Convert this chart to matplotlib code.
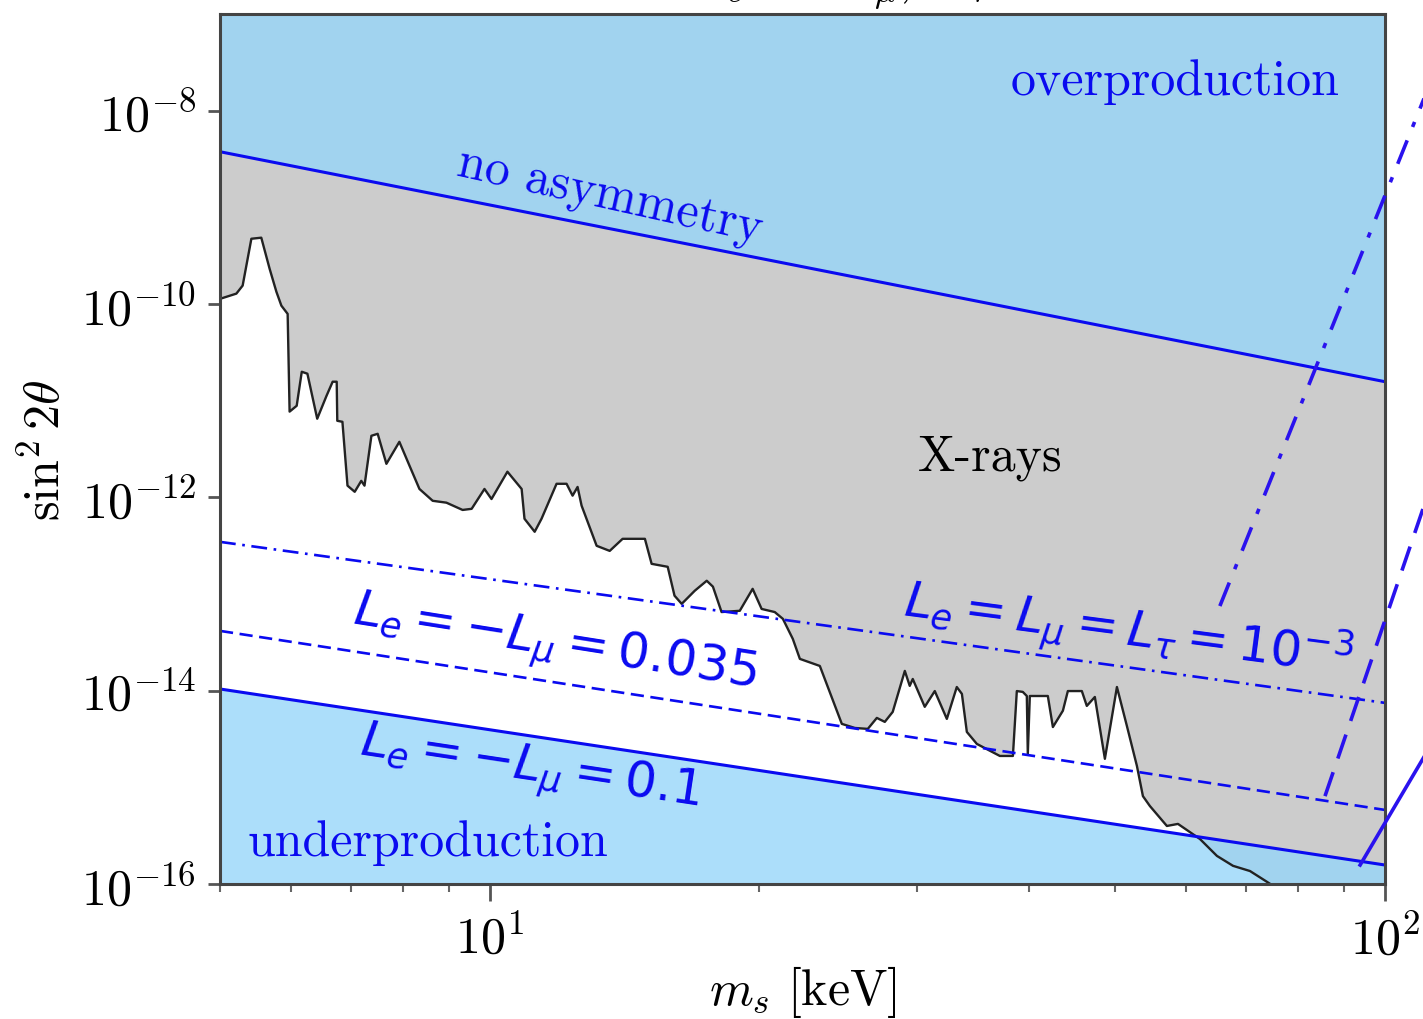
import numpy as np
import matplotlib
matplotlib.use("Agg")
import matplotlib.pyplot as plt
from matplotlib.ticker import LogLocator, NullLocator, NullFormatter

plt.rcParams['mathtext.fontset'] = 'cm'
plt.rcParams['font.family'] = 'cmr10'
plt.rcParams['axes.unicode_minus'] = False
plt.rcParams['axes.formatter.use_mathtext'] = True

# X-ray bound on the mixing angle (upper edge of the allowed white band)
xray_m = [5.0, 5.215, 5.30, 5.42, 5.56, 5.68, 5.78, 5.855, 5.95, 5.98, 6.09, 6.17, 6.26, 6.42, 6.575,
          6.68, 6.75, 6.76, 6.85, 6.94, 7.07, 7.19, 7.25, 7.38, 7.50, 7.67, 7.93, 8.14, 8.35, 8.64,
          8.95, 9.33, 9.55, 9.87, 10.05, 10.47, 10.86, 10.94, 11.23, 11.43, 11.88, 12.19, 12.38, 12.54,
          12.67, 13.17, 13.62, 14.08, 14.91, 15.17, 15.81, 16.09, 16.39, 16.95, 17.48, 17.76, 18.16,
          19.03, 19.67, 20.13, 20.82, 21.26, 21.81, 22.21, 23.38, 23.98, 24.74, 25.58, 26.45, 27.07,
          27.63, 28.20, 29.09, 29.46, 29.69, 30.62, 31.42, 32.41, 33.25, 33.69, 34.12, 35.01, 37.14,
          38.41, 38.80, 39.40, 39.81, 39.91, 40.12, 42.02, 42.57, 43.68, 44.24, 45.86, 46.45, 47.42,
          48.66, 50.19, 51.49, 52.84, 53.66, 54.63, 57.07, 58.72, 62.13, 64.91, 67.65, 70.67, 73.84, 100.0]
xray_s = [1.13e-10, 1.28e-10, 1.55e-10, 4.73e-10, 4.85e-10, 2.32e-10, 1.34e-10, 9.6e-11, 7.9e-11,
          7.7e-12, 8.85e-12, 1.99e-11, 1.90e-11, 6.5e-12, 1.12e-11, 1.57e-11, 1.57e-11, 6.19e-12,
          6.04e-12, 1.32e-12, 1.14e-12, 1.48e-12, 1.32e-12, 4.33e-12, 4.54e-12, 2.22e-12, 3.75e-12,
          2.12e-12, 1.22e-12, 9.2e-13, 8.8e-13, 7.4e-13, 7.6e-13, 1.22e-12, 9.6e-13, 1.84e-12,
          1.22e-12, 6.0e-13, 4.40e-13, 6.0e-13, 1.38e-12, 1.38e-12, 1.04e-12, 1.28e-12, 8.2e-13,
          3.15e-13, 2.79e-13, 3.72e-13, 3.72e-13, 2.05e-13, 1.91e-13, 9.6e-14, 7.9e-14, 1.08e-13,
          1.37e-13, 1.19e-13, 6.5e-14, 6.7e-14, 1.13e-13, 7.0e-14, 6.5e-14, 5.53e-14, 3.43e-14,
          2.13e-14, 1.80e-14, 9.7e-15, 4.53e-15, 4.11e-15, 4.02e-15, 5.22e-15, 4.75e-15, 6.03e-15,
          1.60e-14, 1.12e-14, 1.32e-14, 6.8e-15, 9.9e-15, 5.1e-15, 1.09e-14, 9.25e-15, 3.74e-15,
          2.81e-15, 2.11e-15, 2.11e-15, 9.9e-15, 9.7e-15, 8.8e-15, 2.21e-15, 8.8e-15, 8.8e-15,
          4.2e-15, 6.2e-15, 9.9e-15, 9.9e-15, 6.95e-15, 8.6e-15, 1.97e-15, 1.09e-14, 4.32e-15,
          1.66e-15, 8.1e-16, 6.4e-16, 3.98e-16, 4.18e-16, 2.92e-16, 1.95e-16, 1.54e-16, 1.36e-16,
          1.05e-16, 1.7e-17]

# production lines (power laws between the plot edges)
m_edge = [5.0, 100.0]
no_asym = [3.76e-9, 1.57e-11]
lep_1e3 = [3.46e-13, 7.47e-15]
lep_035 = [4.15e-14, 5.83e-16]
lep_01 = [1.04e-14, 1.57e-16]

# steep curves running off the right edge
steep_dd_m = [65.4, 115.2]
steep_dd_s = [7.5e-14, 3.45e-8]
steep_da_m = [85.7, 115.2]
steep_da_s = [8.1e-16, 2.50e-12]
steep_so_m = [93.8, 115.2]
steep_so_s = [1.57e-16, 3.93e-15]

ymin, ymax = 1e-16, 1e-7
blue = '#0a0af0'
steep_blue = '#2a12ee'
sky = '#97d6f9'

fig = plt.figure(figsize=(14.23, 10.2), dpi=100)
ax = fig.add_axes([0.1546, 0.1324, 0.8187, 0.8529])
ax.set_xscale('log')
ax.set_yscale('log')
ax.set_xlim(5, 100)
ax.set_ylim(ymin, ymax)

# excluded by X-rays, then over/under production shaded on top
ax.fill_between(xray_m, xray_s, ymax, color='#cccccc', lw=0, zorder=1)
ax.fill_between(m_edge, no_asym, ymax, color=sky, alpha=0.8, lw=0, zorder=2)
ax.fill_between(m_edge, ymin, lep_01, color=sky, alpha=0.8, lw=0, zorder=2)

ax.plot(xray_m, xray_s, color='#222222', lw=1.7, zorder=3)
ax.plot(m_edge, no_asym, color=blue, lw=2.2, zorder=4)
ax.plot(m_edge, lep_1e3, color=blue, lw=1.9, ls=(0, (6, 2.5, 1, 2.5)), zorder=4)
ax.plot(m_edge, lep_035, color=blue, lw=1.9, ls=(0, (5, 2.5)), zorder=4)
ax.plot(m_edge, lep_01, color=blue, lw=2.2, zorder=4)

for mm, ss, style in [(steep_dd_m, steep_dd_s, (0, (7, 4, 1.5, 4))),
                      (steep_da_m, steep_da_s, (0, (7, 4))),
                      (steep_so_m, steep_so_s, '-')]:
    ax.plot(mm, ss, color=steep_blue, lw=2.6, ls=style, clip_on=False, zorder=10)

# labels, anchored in pixels from the top-left corner
W, H = 1423, 1020
def label(px, py, s, **kw):
    fig.text(px / W, 1 - py / H, s, fontsize=36, ha='center', va='center',
             rotation_mode='anchor', **kw)

label(1175, 82, 'overproduction', color=blue)
label(428, 843, 'underproduction', color=blue)
label(990, 458, 'X-rays', color='black')
label(610, 197, 'no asymmetry', color=blue, rotation=-12.5)

label(1128, 632, r'$L_e = L_\mu = L_\tau = \mathit{10^{-3}}$', color=blue, rotation=-7.5,
      math_fontfamily='dejavusans')
label(555, 645, r'$L_e = -L_\mu = \mathit{0.035}$', color=blue, rotation=-9.0,
      math_fontfamily='dejavusans')
label(530, 770, r'$L_e = -L_\mu = \mathit{0.1}$', color=blue, rotation=-8.6,
      math_fontfamily='dejavusans')

fig.text(692 / W, 1.0 + 7 / H, r'$L_e = -L_\mu,\ L_\tau = 0$', fontsize=36,
         ha='left', va='baseline', color='black')

ax.set_xlabel(r'$m_s\ [\mathrm{keV}]$', fontsize=36, labelpad=0)
ax.set_ylabel(r'$\sin^2 2\theta$', fontsize=36, labelpad=8)

ax.xaxis.set_major_locator(LogLocator(base=10, numticks=10))
ax.xaxis.set_minor_locator(LogLocator(base=10, subs=np.arange(2, 10), numticks=20))
ax.xaxis.set_minor_formatter(NullFormatter())
ax.set_yticks([1e-16, 1e-14, 1e-12, 1e-10, 1e-8])
ax.yaxis.set_minor_locator(NullLocator())

ax.tick_params(axis='both', which='major', labelsize=36, color='#555555', width=2, length=9, pad=8)
ax.tick_params(axis='x', which='minor', color='#666666', width=1.5, length=6)
ax.tick_params(axis='x', which='major', length=12, pad=10)

for sp in ax.spines.values():
    sp.set_color('#444444')
    sp.set_linewidth(2.2)
    sp.set_zorder(6)

fig.savefig('out.png', dpi=100)
